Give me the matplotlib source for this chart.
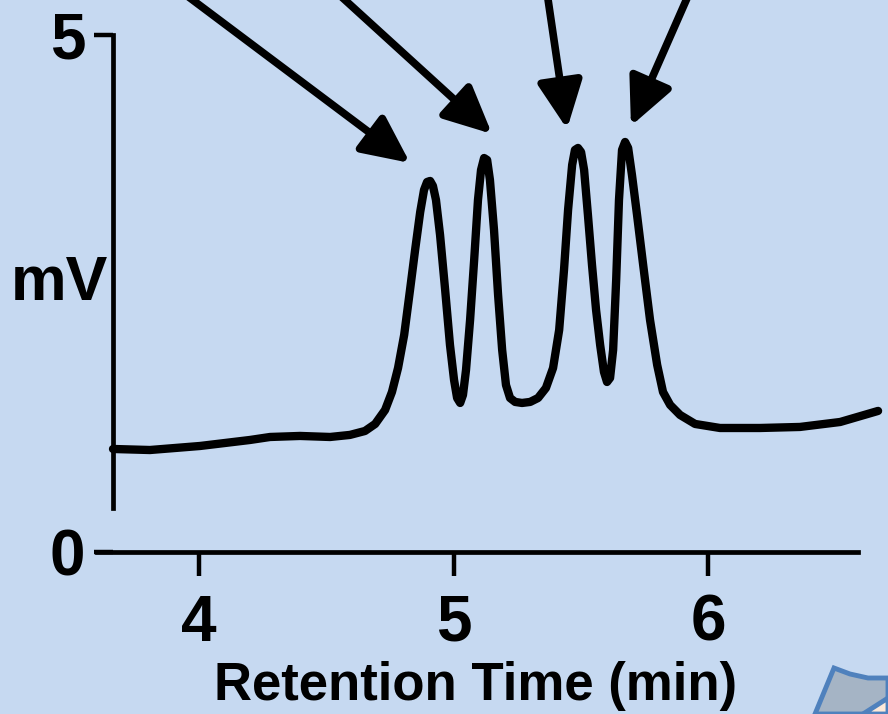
import matplotlib as mpl
mpl.use('Agg')
import matplotlib.pyplot as plt
import matplotlib.patches as mpatches

mpl.rcParams['font.family'] = ['Liberation Sans', 'DejaVu Sans']
mpl.rcParams['font.weight'] = 'bold'

# chromatogram trace (retention time in min, signal in mV)
rt = [3.662, 3.807, 4.004, 4.200, 4.279, 4.397, 4.515, 4.593, 4.652, 4.692,
      4.731, 4.758, 4.782, 4.806, 4.829, 4.849, 4.869, 4.884, 4.896, 4.908,
      4.919, 4.931, 4.947, 4.967, 4.986, 5.002, 5.014, 5.026, 5.037, 5.049,
      5.065, 5.081, 5.096, 5.108, 5.120, 5.132, 5.143, 5.159, 5.175, 5.191,
      5.206, 5.222, 5.242, 5.269, 5.301, 5.332, 5.363, 5.391, 5.415, 5.434,
      5.450, 5.466, 5.477, 5.489, 5.501, 5.513, 5.528, 5.544, 5.560, 5.576,
      5.591, 5.603, 5.615, 5.627, 5.639, 5.650, 5.662, 5.674, 5.686, 5.701,
      5.721, 5.745, 5.772, 5.800, 5.823, 5.851, 5.890, 5.949, 6.047, 6.204,
      6.361, 6.519, 6.668]
mv = [0.996, 0.986, 1.025, 1.083, 1.112, 1.122, 1.112, 1.132, 1.170, 1.238,
      1.373, 1.547, 1.780, 2.099, 2.534, 2.921, 3.288, 3.501, 3.578, 3.588,
      3.540, 3.404, 3.066, 2.534, 2.002, 1.663, 1.489, 1.441, 1.518, 1.760,
      2.244, 2.824, 3.404, 3.694, 3.810, 3.791, 3.598, 3.114, 2.486, 1.954,
      1.615, 1.489, 1.451, 1.441, 1.451, 1.489, 1.586, 1.779, 2.147, 2.727,
      3.308, 3.743, 3.888, 3.907, 3.868, 3.694, 3.259, 2.776, 2.340, 2.002,
      1.741, 1.644, 1.683, 1.954, 2.631, 3.404, 3.888, 3.965, 3.907, 3.646,
      3.259, 2.776, 2.244, 1.809, 1.547, 1.422, 1.325, 1.238, 1.199, 1.199,
      1.209, 1.257, 1.364]

# arrows pointing at the four peaks (tip and tail, data units)
arrow_tips = [(4.829, 3.762), (5.151, 4.043), (5.446, 4.091), (5.697, 4.120)]
arrow_tails = [(3.870, 5.532), (4.487, 5.532), (5.360, 5.532), (5.949, 5.532)]

xticks = [4, 5, 6]
yticks = [0, 5]

bg = '#c6d9f1'

fig = plt.figure(figsize=(8.88, 7.14), dpi=100, facecolor=bg)
ax = fig.add_axes([0, 0, 1, 1], facecolor=bg)
ax.set_xlim(3.218, 6.707)
ax.set_ylim(-1.567, 5.338)

ax.plot(rt, mv, color='k', lw=6, solid_joinstyle='round', solid_capstyle='round')

for tip, tail in zip(arrow_tips, arrow_tails):
    ax.annotate('', xy=tip, xytext=tail, annotation_clip=False,
                arrowprops=dict(arrowstyle='-|>,head_length=0.4,head_width=0.19',
                                mutation_scale=72, lw=5.5, color='k',
                                shrinkA=0, shrinkB=0))

for s in ['top', 'right']:
    ax.spines[s].set_visible(False)
ax.spines['left'].set_position(('data', 3.662))
ax.spines['left'].set_bounds(0.43, 5)
ax.spines['bottom'].set_position(('data', 0))
ax.spines['bottom'].set_bounds(3.599, 6.589)
for s in ['left', 'bottom']:
    ax.spines[s].set_linewidth(3.4)

ax.set_xticks(xticks)
ax.set_yticks(yticks)
ax.tick_params(axis='x', length=17, width=3.2, pad=13, labelsize=46)
ax.tick_params(axis='y', length=14, width=3.2, pad=6, labelsize=46)

ax.text(3.642, 2.60, 'mV', ha='right', va='center', fontsize=45, fontweight='bold')
ax.text(5.088, -1.431, 'Retention Time (min)', ha='center', va='baseline',
        fontsize=38, fontweight='bold')

# decoration clipped at the lower right corner
W, H = 888.0, 714.0
def px(x, y):
    return (x / W, 1 - y / H)

verts = [px(834, 668), px(850, 674), px(868, 678), px(888, 678), px(888, 714), px(815, 714)]
fig.patches.append(mpatches.Polygon(verts, closed=True, transform=fig.transFigure,
                                    facecolor='#a5b4c5', edgecolor='#4f81bd', lw=3.5))
verts2 = [px(863, 714), px(888, 698), px(888, 714)]
fig.patches.append(mpatches.Polygon(verts2, closed=True, transform=fig.transFigure,
                                    facecolor='#fde9d9', edgecolor='#4f81bd', lw=3.5))

plt.savefig('out.png', dpi=100, facecolor=bg)
